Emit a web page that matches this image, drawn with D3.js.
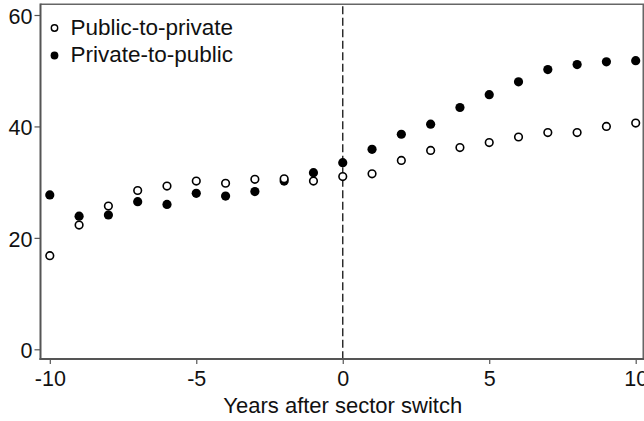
<!DOCTYPE html>
<html><head><meta charset="utf-8">
<script src="https://cdn.jsdelivr.net/npm/d3@7"></script>
<style>body{margin:0;background:#fff;} svg{display:block;} text{font-family:"Liberation Sans",Arial,sans-serif;fill:#111;}</style>
</head><body>
<svg id="c" width="644" height="421"></svg>
<script>
const years = [-10,-9,-8,-7,-6,-5,-4,-3,-2,-1,0,1,2,3,4,5,6,7,8,9,10];
const publicToPrivate = [16.8,22.3,25.7,28.5,29.3,30.2,29.8,30.5,30.6,30.2,31.0,31.5,33.9,35.7,36.2,37.1,38.1,38.9,38.9,40.0,40.6];
const privateToPublic = [27.7,23.9,24.1,26.5,26.0,28.0,27.5,28.3,30.2,31.7,33.5,35.9,38.6,40.4,43.4,45.7,48.0,50.2,51.1,51.6,51.8];
const xTicks = [-10,-5,0,5,10];
const yTicks = [0,20,40,60];
const seriesNames = ["Public-to-private","Private-to-public"];
const xTitle = "Years after sector switch";

const svg = d3.select("#c");
const x = d3.scaleLinear().domain([-10,10]).range([49.8,635.7]);
const y = d3.scaleLinear().domain([0,60]).range([349.3,15]);
const L = 40.5, R = 643.3, T = 4.3, B = 359;
const axisCol = "#555";
const fmt = d => String(d);

// frame (top & right)
svg.append("path").attr("d",`M${L},${T}H${R}V${B}`).attr("fill","none").attr("stroke","#666").attr("stroke-width",1.6);

// dashed reference line
svg.append("line").attr("x1",x(0)).attr("x2",x(0)).attr("y1",T+2).attr("y2",B)
  .attr("stroke","#222").attr("stroke-width",1.4).attr("stroke-dasharray","8,3.5");

// axes
const gx = svg.append("g").attr("transform",`translate(0,${B})`)
  .call(d3.axisBottom(x).tickValues(xTicks).tickSize(5).tickPadding(7).tickFormat(fmt));
const gy = svg.append("g").attr("transform",`translate(${L},0)`)
  .call(d3.axisLeft(y).tickValues(yTicks).tickSize(6).tickPadding(2).tickFormat(fmt));
[gx,gy].forEach(g=>{
  g.select(".domain").remove();
  g.selectAll(".tick line").attr("stroke",axisCol).attr("stroke-width",1.2);
  g.selectAll(".tick text").attr("font-size",21.5).attr("fill","#111").attr("font-family","Liberation Sans, Arial, sans-serif");
});
gy.selectAll(".tick text").attr("dy","0.38em");
svg.append("line").attr("x1",L).attr("x2",L).attr("y1",T-0.8).attr("y2",B+1).attr("stroke",axisCol).attr("stroke-width",2);
svg.append("line").attr("x1",L-1).attr("x2",R+1).attr("y1",B).attr("y2",B).attr("stroke",axisCol).attr("stroke-width",2);

// points
svg.append("g").selectAll("circle").data(years.map((d,i)=>[d,privateToPublic[i]])).join("circle")
  .attr("cx",d=>x(d[0])).attr("cy",d=>y(d[1])).attr("r",4.6).attr("fill","#000");
svg.append("g").selectAll("circle").data(years.map((d,i)=>[d,publicToPrivate[i]])).join("circle")
  .attr("cx",d=>x(d[0])).attr("cy",d=>y(d[1])).attr("r",3.8).attr("fill","#fff").attr("stroke","#000").attr("stroke-width",1.6);

// x title
svg.append("text").attr("x",x(0)).attr("y",413).attr("text-anchor","middle").attr("font-size",22).text(xTitle);

// legend
const lg = svg.append("g");
lg.append("circle").attr("cx",54.5).attr("cy",28).attr("r",3.2).attr("fill","#fff").attr("stroke","#000").attr("stroke-width",1.4);
lg.append("circle").attr("cx",54.5).attr("cy",55.5).attr("r",3.9).attr("fill","#000");
lg.append("text").attr("x",70.5).attr("y",34.5).attr("font-size",22.5).text(seriesNames[0]);
lg.append("text").attr("x",70.5).attr("y",62).attr("font-size",22.5).text(seriesNames[1]);
</script>
</body></html>
